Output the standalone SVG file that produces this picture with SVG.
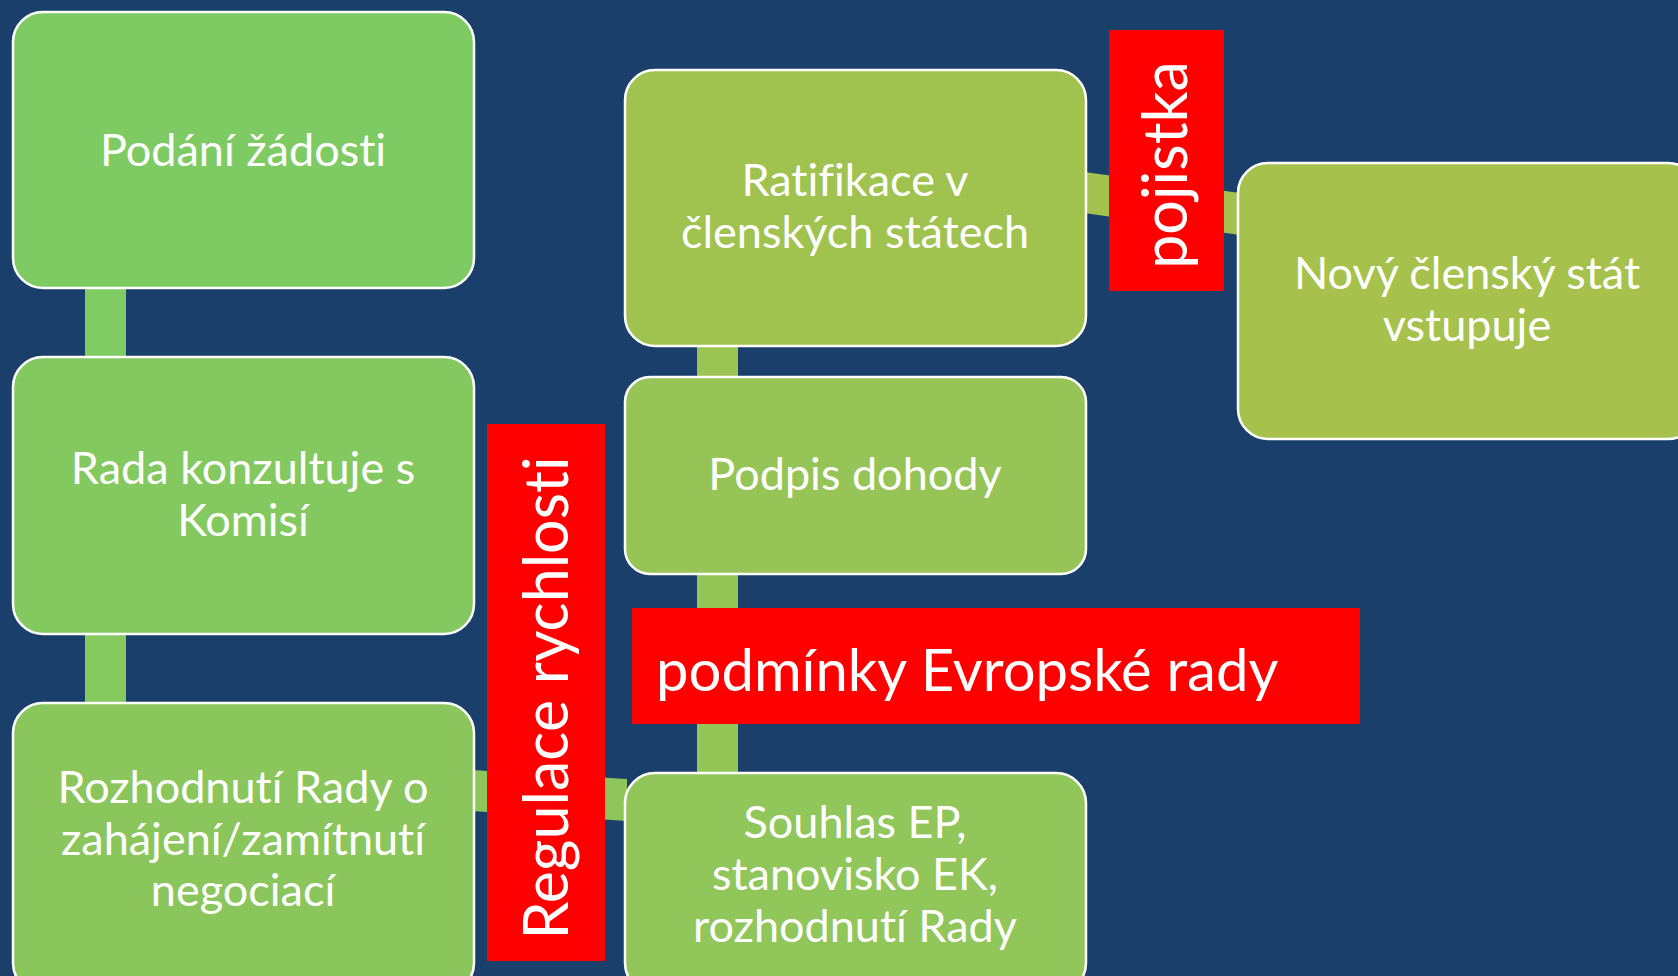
<svg xmlns="http://www.w3.org/2000/svg" width="1678" height="976" viewBox="0 0 1678 976">
<style>
.box{stroke:#ffffff;stroke-width:2.5}
text{font-variant-ligatures:none;font-feature-settings:"liga" 0,"dlig" 0}
.t{font-family:Lato,"Open Sans",sans-serif;fill:#ffffff;font-size:45px;text-anchor:middle}
.big{font-family:Lato,"Open Sans",sans-serif;fill:#ffffff;font-size:58px}
.vert{font-family:Lato,"Open Sans",sans-serif;fill:#ffffff;font-size:61px;text-anchor:middle}
.red{fill:#ff0000}
</style>
<rect width="1678" height="976" fill="#1a3f6b"/>
<g id="connectors">
<rect x="85" y="286" width="41" height="73" fill="#7fcb64"/>
<rect x="85" y="632" width="41" height="73" fill="#86c95f"/>
<rect x="697" y="344" width="41" height="35" fill="#9cc452"/>
<rect x="697" y="572" width="41" height="203" fill="#93c557"/>
<polygon points="472,770 627,779 627,821 472,811" fill="#8ec65b"/>
<polygon points="1084,172 1240,193 1240,235 1084,213" fill="#a3c34e"/>
</g>
<g id="n1"><rect class="box" x="13" y="12" width="461" height="276" rx="30" fill="#7ecb64"/>
<text class="t" x="243" y="166">Podání žádosti</text></g>
<g id="n2"><rect class="box" x="13" y="357" width="461" height="277" rx="30" fill="#84c960"/>
<text class="t" x="243" y="484">Rada konzultuje s</text><text class="t" x="243" y="536">Komisí</text></g>
<g id="n3"><rect class="box" x="13" y="703" width="461" height="290" rx="30" fill="#8bc65c"/>
<text class="t" x="243" y="803">Rozhodnutí Rady o</text><text class="t" x="243" y="855">zahájení/zamítnutí</text><text class="t" x="243" y="906">negociací</text></g>
<g id="n4"><rect class="box" x="625" y="70" width="461" height="276" rx="30" fill="#a0c350"/>
<text class="t" x="855" y="196">Ratifikace v</text><text class="t" x="855" y="248">členských státech</text></g>
<g id="n5"><rect class="box" x="625" y="377" width="461" height="197" rx="25" fill="#96c456"/>
<text class="t" x="855" y="490">Podpis dohody</text></g>
<g id="n6"><rect class="box" x="625" y="773" width="461" height="220" rx="30" fill="#90c65a"/>
<text class="t" x="855" y="838">Souhlas EP,</text><text class="t" x="855" y="890">stanovisko EK,</text><text class="t" x="855" y="942">rozhodnutí Rady</text></g>
<g id="n7"><rect class="box" x="1238" y="163" width="460" height="276" rx="30" fill="#a6c24c"/>
<text class="t" x="1467" y="289">Nový členský stát</text><text class="t" x="1467" y="341">vstupuje</text></g>
<g id="l-regulace"><rect class="red" x="487" y="424" width="118" height="537"/>
<text class="vert" transform="translate(568,698) rotate(-90)">Regulace rychlosti</text></g>
<g id="l-pojistka"><rect class="red" x="1109" y="30" width="115" height="261"/>
<text class="vert" transform="translate(1187,165) rotate(-90)">pojistka</text></g>
<g id="l-podminky"><rect class="red" x="632" y="608" width="728" height="116"/>
<text class="big" x="656" y="691">podmínky Evropské rady</text></g>
</svg>
